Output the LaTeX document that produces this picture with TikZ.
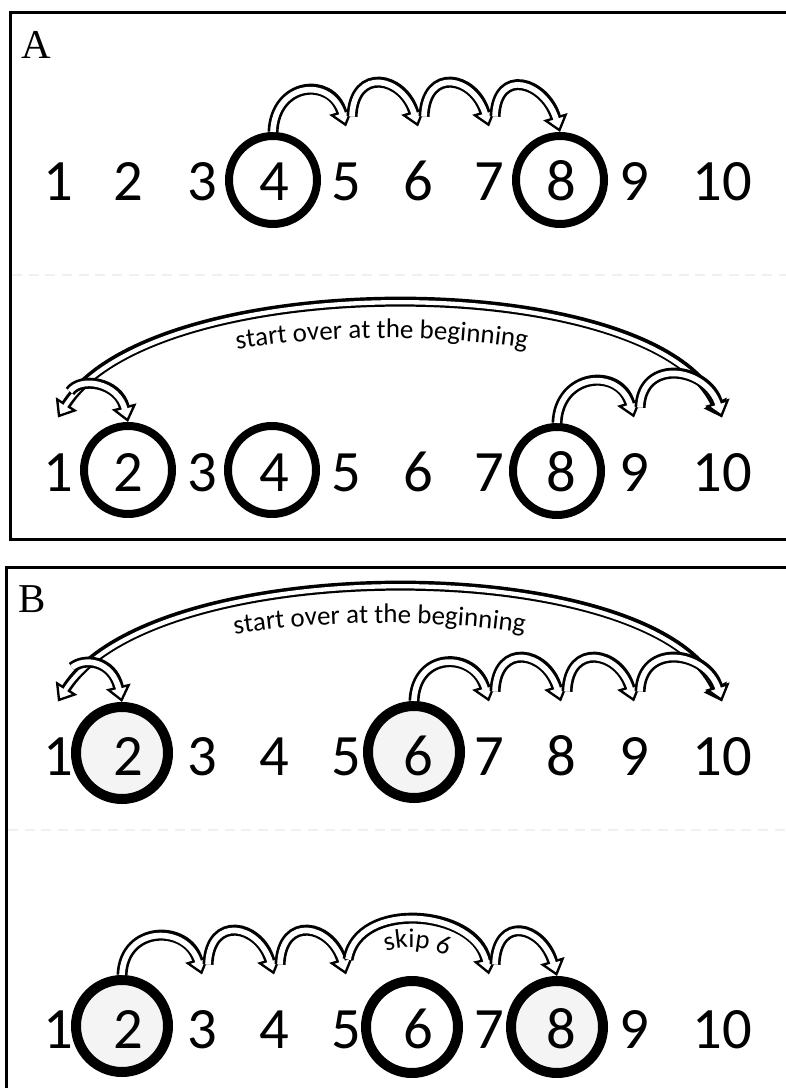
\documentclass[tikz,border=0pt]{standalone}
\usepackage{fontspec}
\setmainfont{Carlito}
\newfontfamily\panelfont{Liberation Serif}
\usetikzlibrary{arrows.meta, calc, decorations.text}
\definecolor{ringfill}{RGB}{244,244,244}
\newcommand\lblfont{\fontsize{23pt}{23pt}\selectfont}

\tikzset{
  num/.style={font=\fontsize{50pt}{50pt}\selectfont, inner sep=0pt,
              text height=11.1mm, text depth=0pt, outer xsep=0pt, outer ysep=11.1mm},
  ringa/.style={circle, draw, line width=2.4mm, minimum size=26.4mm, inner sep=0pt},
  ringb/.style={ringa, line width=3mm, minimum size=27.6mm, fill=ringfill},
  hoptip/.tip={Triangle[length=4.8mm, width=7.5mm, fill=white, line width=0.7mm]},
  hop/.style={line width=3.3mm, -{hoptip},
              postaction={draw=white, line width=1.7mm, -, shorten >=3.8mm}},
  backhop/.style={line width=3mm, {hoptip}-{hoptip},
              postaction={draw=white, line width=1.3mm, -, shorten >=3.8mm, shorten <=3.8mm}},
  panelframe/.style={line width=0.9mm},
  divider/.style={gray!12, line width=0.4mm, dash pattern=on 3mm off 2mm},
  panel/.style={font=\panelfont\fontsize{35pt}{35pt}\selectfont, inner sep=0pt},
}

\begin{document}
\begin{tikzpicture}[x=0.3mm, y=0.3mm]
  \useasboundingbox (0,0) rectangle (786,1088);
  % --- Molduras dos paineis ---
  \draw[panelframe] (786,1075) -- (10,1075) -- (10,548) -- (786,548);
  \draw[panelframe] (786,520) -- (6,520) -- (6,0);
  \draw[divider] (12,813) -- (786,813);
  \draw[divider] (8,258) -- (786,258);
  \node[panel] (labA) at (36,1043) {A};
  \node[panel] (labB) at (32,489) {B};
  % --- Circulos ---
  \node[ringa] (a4r) at (273,908) {};
  \node[ringa] (a8r) at (560,908) {};
  \node[ringa] (b2r) at (128,618) {};
  \node[ringa] (b4r) at (272,618) {};
  \node[ringa] (b8r) at (557,617) {};
  \node[ringb] (c2r) at (122,335) {};
  \node[ringb] (c6r) at (414,336) {};
  \node[ringb] (d2r) at (122,62) {};
  \node[ringb, fill=white] (d6r) at (412,61) {};
  \node[ringb] (d8r) at (557,61) {};
  % --- Numeros ---
  \foreach \x [count=\n] in {58,128,202,274,346,418,489,561,634,722} {
    \node[num] (a\n) at (\x,906) {\n};
    \node[num] (b\n) at (\x,615) {\n};
    \node[num] (c\n) at (\x,331) {\n};
    \node[num] (d\n) at (\x,58) {\n};
  }
  % --- A, linha 1 ---
  \draw[hop] (a4r.north) .. controls +(2,50) and +(-15,50) .. (a5.north);
  \foreach \s/\e in {5/6, 6/7}
    \draw[hop] ($(a\s.north)+(6,10)$) .. controls +(2,50) and +(-15,50) .. (a\e.north);
  \draw[hop] ($(a7.north)+(6,10)$) .. controls +(2,50) and +(-15,50) .. (a8r.north);
  % --- A, linha 2 ---
  \draw[backhop] (b10.north) .. controls +(-70,150) and +(95,150) .. (b1.north);
  \path[decorate, decoration={text along path, text align=center,
        text={|\lblfont|start over at the beginning}}]
    (60,664) .. controls (150,778) and (610,778) .. (705,668);
  \draw[hop] ($(b1.north)+(12,26)$) .. controls +(10,15) and +(-10,40) .. (b2r.north);
  \draw[hop] (b8r.north) .. controls +(2,50) and +(-15,50) .. (b9.north);
  \draw[hop] ($(b9.north)+(6,10)$) .. controls +(2,50) and +(-15,50) .. (b10.north);
  % --- B, linha 1 ---
  \draw[backhop] (c10.north) .. controls +(-70,150) and +(95,150) .. (c1.north);
  \path[decorate, decoration={text along path, text align=center,
        text={|\lblfont|start over at the beginning}}]
    (55,382) .. controls (150,492) and (610,492) .. (705,386);
  \draw[hop] ($(c1.north)+(14,34)$) .. controls +(12,10) and +(-10,42) .. (c2r.north);
  \draw[hop] (c6r.north) .. controls +(2,50) and +(-15,50) .. (c7.north);
  \foreach \s/\e in {7/8, 8/9, 9/10}
    \draw[hop] ($(c\s.north)+(6,10)$) .. controls +(2,50) and +(-15,50) .. (c\e.north);
  % --- B, linha 2 ---
  \draw[hop] (d2r.north) .. controls +(2,50) and +(-15,50) .. (d3.north);
  \foreach \s/\e in {3/4, 4/5}
    \draw[hop] ($(d\s.north)+(6,10)$) .. controls +(2,50) and +(-15,50) .. (d\e.north);
  \draw[hop] ($(d5.north)+(2,15)$) .. controls +(10,60) and +(-14,65) .. (d7.north);
  \path[decorate, decoration={text along path, text align=center,
        text={|\lblfont|skip 6}}]
    (352,98) .. controls (365,156) and (462,156) .. (478,90);
  \draw[hop] ($(d7.north)+(6,10)$) .. controls +(2,50) and +(-15,50) .. (d8r.north);
\end{tikzpicture}
\end{document}
